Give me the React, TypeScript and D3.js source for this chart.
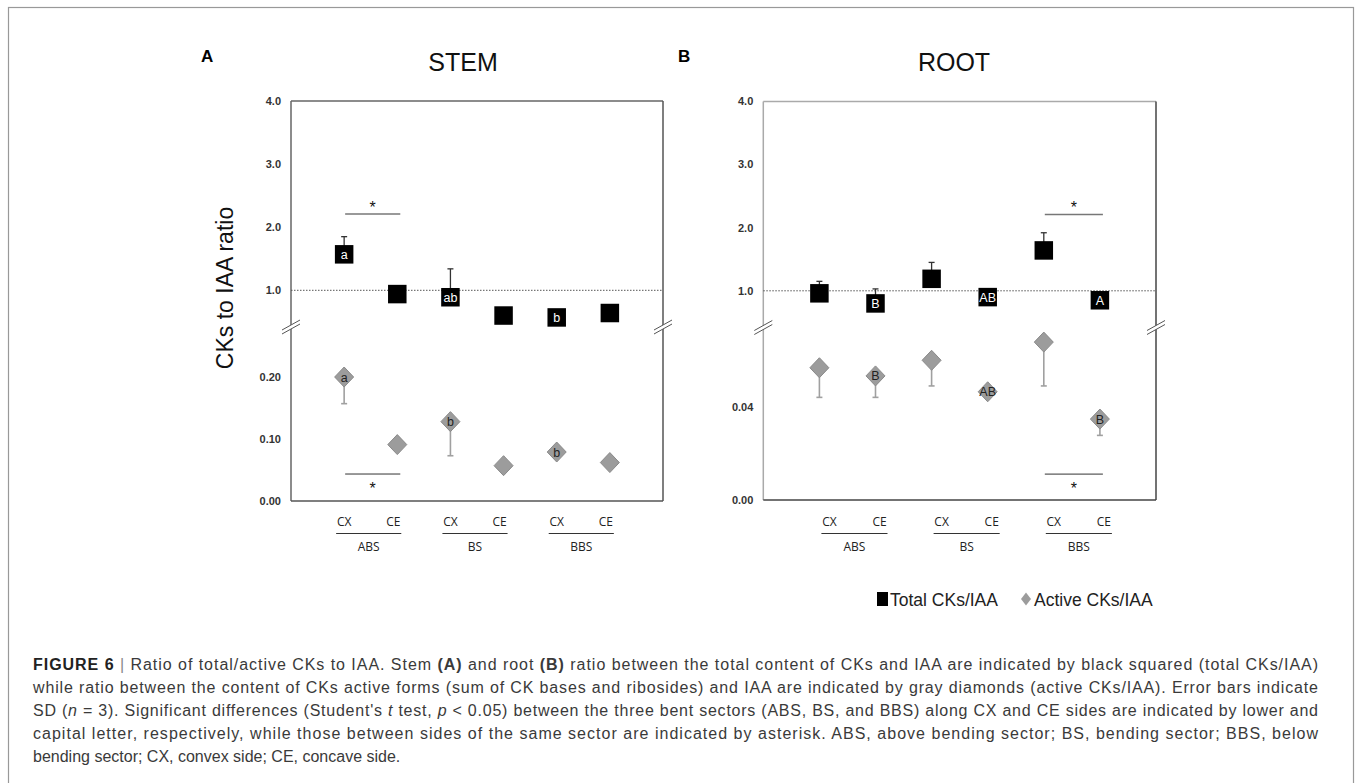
import React from "react";
import * as d3 from "d3";

const categories = ["CX", "CE", "CX", "CE", "CX", "CE"];
const groups = ["ABS", "BS", "BBS"];
const upperTicks = [1.0, 2.0, 3.0, 4.0];
const stemLowerTicks = [0.0, 0.1, 0.2];
const rootLowerTicks = [0.0, 0.04];

const stemTotal = [1.57, 0.94, 0.89, 0.6, 0.57, 0.64];
const stemTotalSD = [0.28, 0.04, 0.45, 0.04, 0.04, 0.04];
const stemActive = [0.2, 0.091, 0.128, 0.057, 0.079, 0.062];
const stemActiveSD = [0.043, 0.004, 0.055, 0.004, 0.004, 0.004];
const stemTotalLetters = ["a", "", "ab", "", "b", ""];
const stemActiveLetters = ["a", "", "b", "", "b", ""];

const rootTotal = [0.96, 0.8, 1.19, 0.9, 1.64, 0.85];
const rootTotalSD = [0.19, 0.23, 0.26, 0.05, 0.28, 0.05];
const rootActive = [0.0567, 0.0532, 0.0599, 0.0464, 0.0677, 0.0347];
const rootActiveSD = [0.0127, 0.0092, 0.011, 0.002, 0.0188, 0.007];
const rootTotalLetters = ["", "B", "", "AB", "", "A"];
const rootActiveLetters = ["", "B", "", "AB", "", "B"];

// significance: [index of CX, upper-scale value, lower-scale value]
const stemSig = { idx: 0, upper: 2.21, lower: 0.0435 };
const rootSig = { idx: 4, upper: 2.21, lower: 0.0111 };

const FONT = "'Liberation Sans', Arial, Helvetica, sans-serif";
const LABFONT = "'Open Sans', 'Liberation Sans', sans-serif";

type PanelProps = {
  x0: number; x1: number; top: number; bottom: number;
  title: string; titleX: number; letter: string; letterX: number;
  total: number[]; totalSD: number[]; active: number[]; activeSD: number[];
  totalLetters: string[]; activeLetters: string[];
  lowerTicks: number[]; lowerFmt: string; lowerPx: number;
  sig: { idx: number; upper: number; lower: number };
  shiftCX: number; shiftCE: number;
  frameTL: string; frameBR: string;
};

function Panel(p: PanelProps) {
  const x = d3.scaleLinear().domain([0, 7]).range([p.x0, p.x1]);
  const yU = d3.scaleLinear().domain([1, 4]).range([p.top + 189.3, p.top]);
  const lowerMax = p.lowerTicks[p.lowerTicks.length - 1];
  const yL = d3.scaleLinear().domain([0, lowerMax]).range([p.bottom, p.bottom - p.lowerPx]);
  const breakY = p.top + 226;
  const fmtU = d3.format(".1f");
  const fmtL = d3.format(p.lowerFmt);
  const sq = 18.5;
  const dw = 9.5, dh = 10;
  const cap = 3;
  const diamond = (cx: number, cy: number) =>
    `M${cx},${cy - dh}L${cx + dw},${cy}L${cx},${cy + dh}L${cx - dw},${cy}Z`;
  const breakMark = (bx: number) => (
    <g>
      <polygon
        points={`${bx - 9},${breakY + 3} ${bx + 9},${breakY - 7} ${bx + 9},${breakY - 3} ${bx - 9},${breakY + 7}`}
        fill="#fff"
      />
      <line x1={bx - 9} y1={breakY + 3} x2={bx + 9} y2={breakY - 7} stroke="#555" strokeWidth={1} />
      <line x1={bx - 9} y1={breakY + 7} x2={bx + 9} y2={breakY - 3} stroke="#555" strokeWidth={1} />
    </g>
  );
  const sx1 = x(p.sig.idx + 1) + 1;
  const sx2 = x(p.sig.idx + 2) + 3;
  const labX = (i: number) => x(i + 1) + (i % 2 === 0 ? p.shiftCX : p.shiftCE);
  return (
    <g>
      <text x={p.letterX} y={61.5} fontFamily={FONT} fontWeight="bold" fontSize={17} fill="#000">
        {p.letter}
      </text>
      <text x={p.titleX} y={70.5} textAnchor="middle" fontFamily={FONT} fontSize={25} fill="#111">
        {p.title}
      </text>
      {/* frame */}
      <line x1={p.x0} y1={p.top} x2={p.x1} y2={p.top} stroke={p.frameTL} strokeWidth={1.5} />
      <line x1={p.x0} y1={p.top} x2={p.x0} y2={p.bottom} stroke={p.frameTL} strokeWidth={1.5} />
      <line x1={p.x1} y1={p.top} x2={p.x1} y2={p.bottom} stroke={p.frameBR} strokeWidth={1.5} />
      <line x1={p.x0} y1={p.bottom} x2={p.x1} y2={p.bottom} stroke={p.frameBR} strokeWidth={1.5} />
      {/* reference line */}
      <line x1={p.x0} y1={yU(1)} x2={p.x1} y2={yU(1)} stroke="#555" strokeWidth={1} strokeDasharray="1.5,1.5" />
      {breakMark(p.x0)}
      {breakMark(p.x1)}
      {/* ticks */}
      {upperTicks.map((t) => (
        <text key={"u" + t} x={p.x0 - 10} y={yU(t)} dy="0.35em" textAnchor="end" fontFamily={FONT}
          fontWeight="bold" fontSize={11} fill="#333">{fmtU(t)}</text>
      ))}
      {p.lowerTicks.map((t) => (
        <text key={"l" + t} x={p.x0 - 10} y={yL(t)} dy="0.35em" textAnchor="end" fontFamily={FONT}
          fontWeight="bold" fontSize={11} fill="#333">{fmtL(t)}</text>
      ))}
      {/* total error bars + squares */}
      {p.total.map((v, i) => {
        const cx = x(i + 1);
        const yt = yU(v + p.totalSD[i]);
        return (
          <g key={"t" + i}>
            <line x1={cx} y1={yU(v)} x2={cx} y2={yt} stroke="#333" strokeWidth={1.3} />
            <line x1={cx - cap} y1={yt} x2={cx + cap} y2={yt} stroke="#333" strokeWidth={1.3} />
            <rect x={cx - sq / 2} y={yU(v) - sq / 2} width={sq} height={sq} fill="#000" />
            {p.totalLetters[i] && (
              <text x={cx} y={yU(v)} dy="0.36em" textAnchor="middle" fontFamily={FONT} fontSize={12.5} fill="#fff">
                {p.totalLetters[i]}
              </text>
            )}
          </g>
        );
      })}
      {/* active error bars + diamonds */}
      {p.active.map((v, i) => {
        const cx = x(i + 1);
        const yb = yL(v - p.activeSD[i]);
        return (
          <g key={"a" + i}>
            <line x1={cx} y1={yL(v)} x2={cx} y2={yb} stroke="#a0a0a0" strokeWidth={1.6} />
            <line x1={cx - cap} y1={yb} x2={cx + cap} y2={yb} stroke="#a0a0a0" strokeWidth={1.6} />
            <path d={diamond(cx, yL(v))} fill="#9c9c9c" stroke="#8a8a8a" strokeWidth={1} />
            {p.activeLetters[i] && (
              <text x={cx} y={yL(v)} dy="0.36em" textAnchor="middle" fontFamily={FONT} fontSize={12.5} fill="#222">
                {p.activeLetters[i]}
              </text>
            )}
          </g>
        );
      })}
      {/* significance */}
      <line x1={sx1} y1={yU(p.sig.upper)} x2={sx2} y2={yU(p.sig.upper)} stroke="#777" strokeWidth={1.5} />
      <text x={(sx1 + sx2) / 2} y={yU(p.sig.upper) - 1} textAnchor="middle" fontFamily={FONT} fontSize={16} fill="#111">*</text>
      <line x1={sx1} y1={yL(p.sig.lower)} x2={sx2} y2={yL(p.sig.lower)} stroke="#333" strokeWidth={1} />
      <text x={(sx1 + sx2) / 2} y={yL(p.sig.lower) + 20} textAnchor="middle" fontFamily={FONT} fontSize={16} fill="#111">*</text>
      {/* x labels */}
      {categories.map((c, i) => (
        <text key={"c" + i} x={labX(i)} y={522} dy="0.35em" textAnchor="middle"
          fontFamily={LABFONT} fontSize={12} fill="#222">{c}</text>
      ))}
      {groups.map((g, gi) => {
        const a = labX(gi * 2) - 8;
        const b = labX(gi * 2 + 1) + 8;
        return (
          <g key={"g" + gi}>
            <line x1={a} y1={533.5} x2={b} y2={533.5} stroke="#333" strokeWidth={1} />
            <text x={(a + b) / 2} y={547} dy="0.35em" textAnchor="middle" fontFamily={LABFONT}
              fontSize={12} fill="#222">{g}</text>
          </g>
        );
      })}
    </g>
  );
}

export default function App() {
  const capX = 33;
  const capW = 1285;
  const capY0 = 670;
  const capDy = 23;
  const capStyle = { fontFamily: FONT, fontSize: 16, fill: "#3a3a3a" } as any;
  return (
    <div style={{ position: "absolute", left: 0, top: 0 }}>
      <svg width={1356} height={783} style={{ display: "block", background: "#fff" }}>
        <rect x={8.5} y={7.5} width={1345} height={790} fill="none" stroke="#999" strokeWidth={1.2} />
        <text transform="translate(233,288) rotate(-90)" textAnchor="middle" fontFamily={FONT} fontSize={23} fill="#111">
          CKs to IAA ratio
        </text>
        <Panel x0={291} x1={663} top={101} bottom={501} title="STEM" titleX={463} letter="A" letterX={201}
          total={stemTotal} totalSD={stemTotalSD} active={stemActive} activeSD={stemActiveSD}
          totalLetters={stemTotalLetters} activeLetters={stemActiveLetters}
          lowerTicks={stemLowerTicks} lowerFmt=".2f" lowerPx={124} sig={stemSig} shiftCX={0} shiftCE={-4}
          frameTL="#666" frameBR="#555" />
        <Panel x0={763.3} x1={1156} top={101.5} bottom={500} title="ROOT" titleX={954} letter="B" letterX={678}
          total={rootTotal} totalSD={rootTotalSD} active={rootActive} activeSD={rootActiveSD}
          totalLetters={rootTotalLetters} activeLetters={rootActiveLetters}
          lowerTicks={rootLowerTicks} lowerFmt=".2f" lowerPx={93.3} sig={rootSig} shiftCX={10} shiftCE={4}
          frameTL="#aaa" frameBR="#444" />
        {/* legend */}
        <g>
          <rect x={877} y={592} width={11} height={14} fill="#000" />
          <text x={890} y={606} fontFamily={FONT} fontSize={17.5} fill="#222">Total CKs/IAA</text>
          <path d="M1026,592.5L1031,599L1026,605.5L1021,599Z" fill="#9c9c9c" />
          <text x={1034} y={606} fontFamily={FONT} fontSize={17.5} fill="#222">Active CKs/IAA</text>
        </g>
        {/* caption */}
        <text x={capX} y={capY0} textLength={capW} lengthAdjust="spacing" {...capStyle}>
          <tspan fontWeight="bold" fill="#222">FIGURE 6</tspan>
          <tspan fill="#888"> | </tspan>
          <tspan>Ratio of total/active CKs to IAA. Stem </tspan>
          <tspan fontWeight="bold">(A)</tspan>
          <tspan> and root </tspan>
          <tspan fontWeight="bold">(B)</tspan>
          <tspan> ratio between the total content of CKs and IAA are indicated by black squared (total CKs/IAA)</tspan>
        </text>
        <text x={capX} y={capY0 + capDy} textLength={capW} lengthAdjust="spacing" {...capStyle}>
          while ratio between the content of CKs active forms (sum of CK bases and ribosides) and IAA are indicated by gray diamonds (active CKs/IAA). Error bars indicate
        </text>
        <text x={capX} y={capY0 + capDy * 2} textLength={capW} lengthAdjust="spacing" {...capStyle}>
          <tspan>SD (</tspan>
          <tspan fontStyle="italic">n</tspan>
          <tspan> = 3). Significant differences (Student's </tspan>
          <tspan fontStyle="italic">t</tspan>
          <tspan> test, </tspan>
          <tspan fontStyle="italic">p</tspan>
          <tspan> &lt; 0.05) between the three bent sectors (ABS, BS, and BBS) along CX and CE sides are indicated by lower and</tspan>
        </text>
        <text x={capX} y={capY0 + capDy * 3} textLength={capW} lengthAdjust="spacing" {...capStyle}>
          capital letter, respectively, while those between sides of the same sector are indicated by asterisk. ABS, above bending sector; BS, bending sector; BBS, below
        </text>
        <text x={capX} y={capY0 + capDy * 4} {...capStyle}>
          bending sector; CX, convex side; CE, concave side.
        </text>
      </svg>
    </div>
  );
}
